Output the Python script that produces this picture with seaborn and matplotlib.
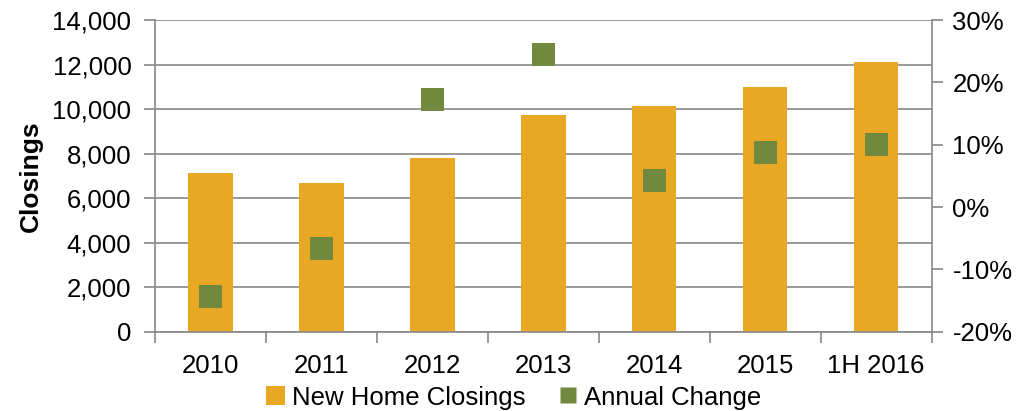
import matplotlib
matplotlib.use("Agg")
import numpy as np
import pandas as pd
import matplotlib.pyplot as plt
import seaborn as sns
from matplotlib.ticker import FuncFormatter, PercentFormatter
from matplotlib.patches import Patch
from matplotlib.lines import Line2D

# Data
periods = ["2010", "2011", "2012", "2013", "2014", "2015", "1H 2016"]
closings = [7130, 6660, 7800, 9720, 10130, 11010, 12100]
annual_change = [-14.4, -6.7, 17.3, 24.5, 4.2, 8.7, 10.0]

BAR_COLOR = "#E9A823"
MARK_COLOR = "#71893F"
AXIS_GRAY = "#878787"
FS = 18.5

sns.set_theme(style="white")
plt.rcParams["font.family"] = ["Liberation Sans", "DejaVu Sans"]
plt.rcParams["axes.unicode_minus"] = False
plt.rcParams["text.color"] = "black"

df = pd.DataFrame({"period": periods, "closings": closings, "change": annual_change})

fig = plt.figure(figsize=(10.34, 4.11), dpi=100)
ax = fig.add_axes([0.1499, 0.193, 0.7511, 0.7583])

sns.barplot(data=df, x="period", y="closings", color=BAR_COLOR, width=0.4,
            saturation=1, ax=ax, zorder=2)
for p in ax.patches:
    p.set_edgecolor("none")

ax.set_xlim(-0.5, len(periods) - 0.5)
ax.set_ylim(0, 14000)
ax.set_yticks(np.arange(0, 14001, 2000))
ax.yaxis.set_major_formatter(FuncFormatter(lambda v, _: f"{int(v):,}"))
ax.set_xlabel("")
ax.set_ylabel("Closings", fontsize=19, fontweight="bold", labelpad=7, color="black")
ax.grid(axis="y", color=AXIS_GRAY, linewidth=1.2, zorder=0)
ax.set_axisbelow(True)

# ticks: bottom ticks sit between categories
ax.set_xticks(np.arange(-0.5, len(periods)), minor=True)
ax.tick_params(axis="x", which="major", length=0, pad=16, labelsize=FS, labelcolor="black")
ax.tick_params(axis="x", which="minor", length=8, width=1.2, color=AXIS_GRAY,
               direction="out", bottom=True)
ax.tick_params(axis="y", length=8, width=1.2, color=AXIS_GRAY, direction="out",
               left=True, pad=9, labelsize=FS, labelcolor="black")

for side in ["top", "right"]:
    ax.spines[side].set_visible(False)
for side in ["left", "bottom"]:
    ax.spines[side].set_color(AXIS_GRAY)
    ax.spines[side].set_linewidth(1.2)

ax2 = ax.twinx()
sns.scatterplot(data=df, x="period", y="change", marker="s", s=270,
                color=MARK_COLOR, edgecolor="none", ax=ax2, zorder=3)
ax2.set_ylim(-20, 30)
ax2.set_yticks(np.arange(-20, 31, 10))
ax2.yaxis.set_major_formatter(PercentFormatter(decimals=0))
ax2.set_ylabel("")
ax2.set_xlabel("")
ax2.tick_params(axis="y", length=8, width=1.2, color=AXIS_GRAY, direction="out",
                right=True, pad=7, labelsize=FS, labelcolor="black")
for side in ["top", "left", "bottom"]:
    ax2.spines[side].set_visible(False)
ax2.spines["right"].set_color(AXIS_GRAY)
ax2.spines["right"].set_linewidth(1.2)
ax2.grid(False)
ax2.set_xlim(-0.5, len(periods) - 0.5)

handles = [
    Patch(facecolor=BAR_COLOR, edgecolor="none", label="New Home Closings"),
    Line2D([], [], marker="s", linestyle="none", markersize=12,
           markerfacecolor=MARK_COLOR, markeredgecolor="none", label="Annual Change"),
]
fig.legend(handles=handles, loc="lower center", bbox_to_anchor=(0.497, -0.053),
           ncol=2, frameon=False, fontsize=FS, handlelength=0.75, handleheight=0.75,
           handletextpad=0.25, columnspacing=1.3)

fig.savefig("out.png", dpi=100)
